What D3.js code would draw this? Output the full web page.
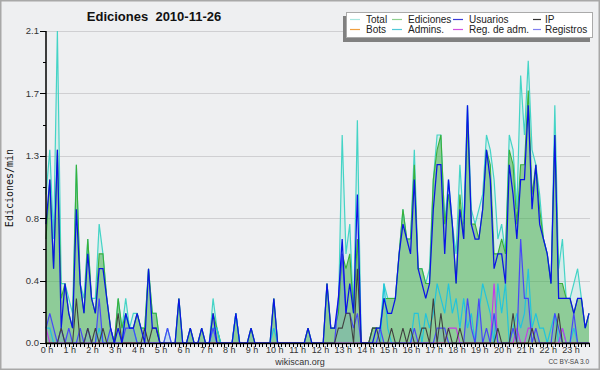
<!DOCTYPE html>
<html><head><meta charset="utf-8">
<script src="https://cdn.jsdelivr.net/npm/d3@7/dist/d3.min.js"></script>
<style>body{margin:0;background:#fff}svg{display:block}</style>
</head><body><svg id="c" width="600" height="370"></svg>
<script>
const hourLabels = ["0 h","1 h","2 h","3 h","4 h","5 h","6 h","7 h","8 h","9 h","10 h","11 h","12 h","13 h","14 h","15 h","16 h","17 h","18 h","19 h","20 h","21 h","22 h","23 h"];
const yTickValues = [0, 0.42, 0.84, 1.26, 1.68, 2.1];
const yTickLabels = ["0.0","0.4","0.8","1.3","1.7","2.1"];

const total = [
1.0,1.3,0.7,2.1,0.4,0.4, 0.3,0.2,1.2,0.4,0.3,0.7, 0.3,0.3,0.8,0.6,0.3,0.1, 0.0,0.3,0.1,0.3,0.1,0.2,
0.2,0.1,0.1,0.5,0.2,0.2, 0.0,0.0,0.1,0.0,0.0,0.3, 0.0,0.0,0.1,0.0,0.0,0.1, 0.0,0.0,0.3,0.1,0.0,0.0,
0.0,0.0,0.2,0.0,0.0,0.0, 0.1,0.0,0.0,0.0,0.0,0.0, 0.3,0.0,0.0,0.0,0.0,0.0, 0.0,0.0,0.0,0.1,0.0,0.0,
0.0,0.0,0.4,0.1,0.1,0.2, 1.4,0.6,0.8,0.2,1.5,0.0, 0.0,0.0,0.1,0.1,0.1,0.4, 0.3,0.3,0.3,0.6,0.9,0.7,
0.7,1.3,0.5,0.5,0.4,0.5, 1.1,1.4,1.4,0.8,1.1,0.8, 0.6,1.2,0.8,1.6,0.9,0.8, 0.9,1.0,1.4,1.3,1.1,0.7,
0.8,0.6,1.4,1.3,0.9,1.8, 1.4,1.9,1.3,1.2,1.0,0.7, 0.6,0.4,1.6,0.5,0.7,0.3, 0.3,0.4,0.5,0.3,0.1,0.2];
const ediciones = [
0.7,1.1,0.5,1.3,0.3,0.4, 0.2,0.1,1.2,0.4,0.2,0.7, 0.3,0.2,0.6,0.6,0.3,0.1, 0.0,0.3,0.1,0.2,0.1,0.1,
0.2,0.1,0.1,0.5,0.2,0.2, 0.0,0.0,0.0,0.0,0.0,0.3, 0.0,0.0,0.1,0.0,0.0,0.1, 0.0,0.0,0.2,0.1,0.0,0.0,
0.0,0.0,0.2,0.0,0.0,0.0, 0.1,0.0,0.0,0.0,0.0,0.0, 0.3,0.0,0.0,0.0,0.0,0.0, 0.0,0.0,0.0,0.1,0.0,0.0,
0.0,0.0,0.4,0.1,0.1,0.2, 0.6,0.5,0.6,0.2,0.7,0.0, 0.0,0.0,0.1,0.1,0.1,0.3, 0.3,0.3,0.3,0.6,0.9,0.7,
0.7,1.2,0.5,0.5,0.4,0.4, 1.1,1.3,1.4,0.8,1.0,0.8, 0.4,1.0,0.7,1.5,0.8,0.8, 0.7,0.9,1.3,1.2,0.6,0.6,
0.7,0.6,1.3,1.2,0.8,1.2, 1.2,1.7,1.0,1.2,0.9,0.7, 0.6,0.4,1.4,0.4,0.4,0.3, 0.3,0.2,0.3,0.3,0.1,0.2];
const usuarios = [
0.8,1.1,0.5,1.3,0.1,0.4, 0.2,0.1,0.9,0.4,0.2,0.6, 0.3,0.2,0.5,0.5,0.3,0.1, 0.0,0.1,0.0,0.2,0.1,0.1,
0.2,0.1,0.0,0.5,0.1,0.1, 0.0,0.0,0.0,0.0,0.0,0.3, 0.0,0.0,0.1,0.0,0.0,0.1, 0.0,0.0,0.2,0.0,0.0,0.0,
0.0,0.0,0.2,0.0,0.0,0.0, 0.1,0.0,0.0,0.0,0.0,0.0, 0.3,0.0,0.0,0.0,0.0,0.0, 0.0,0.0,0.0,0.1,0.0,0.0,
0.0,0.0,0.4,0.1,0.1,0.3, 0.7,0.2,0.4,0.2,1.0,0.0, 0.0,0.0,0.0,0.1,0.1,0.3, 0.2,0.2,0.3,0.6,0.8,0.7,
0.6,1.1,0.5,0.4,0.3,0.4, 0.9,1.2,1.2,0.6,1.1,0.8, 0.4,0.9,0.7,1.6,0.8,0.7, 0.7,0.9,1.3,1.1,0.5,0.6,
0.6,0.4,1.2,1.0,0.7,1.1, 1.1,1.6,0.9,1.2,0.8,0.7, 0.6,0.4,1.4,0.3,0.3,0.3, 0.3,0.2,0.3,0.3,0.1,0.2];
const ip = [
0,0,0,0,0.1,0, 0,0,0.3,0,0,0.1, 0,0.1,0,0.1,0,0, 0,0.2,0,0,0,0,
0,0,0.1,0,0.1,0.1, 0,0,0,0,0,0, 0,0,0,0,0,0, 0,0,0,0,0,0,
0,0,0,0,0,0, 0,0,0,0,0,0, 0,0,0,0,0,0, 0,0,0,0,0,0,
0,0,0,0,0,0.1, 0.1,0.2,0.2,0,0.5,0, 0,0,0.1,0.1,0,0, 0,0.1,0,0,0.1,0,
0.1,0,0,0.1,0.1,0, 0.3,0,0.2,0,0.1,0, 0,0.1,0,0,0,0, 0,0,0,0,0,0.1,
0,0,0,0.2,0,0, 0,0,0.1,0,0,0, 0,0,0,0.2,0,0, 0,0,0,0,0,0];
const bots = [
0,0,0,0,0,0, 0,0,0,0,0,0, 0,0,0,0,0,0, 0,0,0,0,0,0,
0,0,0,0,0,0, 0,0,0,0,0,0, 0,0,0,0,0,0, 0,0,0,0,0,0,
0,0,0,0,0,0, 0,0,0,0,0,0, 0,0,0,0,0,0, 0,0,0,0,0,0,
0,0,0,0,0,0, 0,0,0,0,0,0, 0,0,0,0,0,0, 0,0,0,0,0,0,
0,0,0,0,0,0, 0,0,0,0,0,0, 0,0,0,0,0,0, 0,0,0,0,0,0,
0,0,0,0,0,0, 0,0,0,0,0,0, 0,0,0,0,0,0, 0,0,0,0,0,0];
const admins = [
0.1,0.1,0,0,0,0, 0,0,0,0,0,0, 0,0,0.1,0,0,0, 0,0,0,0.2,0.1,0.1,
0,0,0,0,0,0, 0,0,0,0,0,0, 0,0,0,0,0,0, 0,0,0.1,0.1,0,0,
0,0,0.2,0,0,0, 0,0,0,0,0,0, 0.1,0,0,0,0,0, 0,0,0,0,0,0,
0,0,0,0,0,0, 0,0,0,0,0,0, 0,0,0,0,0,0.4, 0.1,0,0,0,0,0,
0,0.2,0.2,0,0.2,0.1, 0.2,0.4,0.3,0.2,0.4,0.2, 0.3,0.1,0.3,0.1,0.2,0, 0.2,0.4,0.3,0.2,0,0.4,
0.2,0.4,0,0.1,0.2,0.1, 0.2,0.5,0.1,0.2,0.1,0.1, 0,0.1,0.2,0,0.1,0, 0,0.1,0,0,0,0];
const regAdm = [
0.1,0,0,0,0,0, 0,0,0,0,0,0, 0,0,0,0,0,0, 0,0,0,0,0,0,
0,0,0,0,0,0, 0,0,0,0,0,0, 0,0,0,0,0,0, 0,0,0,0,0,0,
0,0,0,0,0,0, 0,0,0,0,0,0, 0,0,0,0,0,0, 0,0,0,0,0,0,
0,0,0,0,0,0, 0,0,0,0,0,0, 0,0,0,0,0,0, 0,0,0,0,0,0,
0,0,0,0,0,0, 0,0,0,0,0.1,0.1, 0.1,0,0,0,0,0, 0,0,0,0,0.4,0,
0,0,0,0,0.1,0, 0,0.1,0.1,0,0,0, 0,0,0,0,0.1,0, 0,0,0,0,0,0];
const registros = [
0.1,0.2,0.1,0,0.1,0, 0.1,0,0,0.1,0,0.1, 0,0,0.3,0,0,0.1, 0,0,0,0.1,0.1,0.1,
0,0,0,0,0,0, 0,0,0.1,0,0,0, 0,0,0,0,0,0, 0,0,0.1,0,0,0,
0,0,0,0,0,0, 0,0,0,0,0,0, 0,0,0,0,0,0, 0,0,0,0,0,0,
0,0,0,0,0,0.3, 0.6,0.2,0.2,0.1,0.2,0, 0,0,0,0,0.1,0, 0,0,0,0,0,0,
0,0.1,0,0,0,0, 0,0.1,0.1,0.1,0,0, 0,0,0,0.3,0.1,0, 0.3,0,0.1,0,0.2,0,
0,0,0,0.1,0,0.7, 0.3,0.3,0,0.1,0,0, 0,0,0.2,0.1,0,0, 0,0.2,0,0,0,0];

const legendNames = ["Total","Ediciones","Usuarios","IP","Bots","Admins.","Reg. de adm.","Registros"];
const legendColors = ["#a8e6e0","#8fd08f","#3a3ad8","#333333","#f0a040","#50c8d8","#d050e0","#8080f0"];

const svg = d3.select("#c");
const W = 600, H = 370;
const x = d3.scaleLinear().domain([0, 143]).range([46, 589]);
const y = d3.scaleLinear().domain([0, 2.1]).range([343, 31]);
const FONT = "'Liberation Sans', Arial, sans-serif";

svg.append("rect").attr("x",0.75).attr("y",0.75).attr("width",W-1.5).attr("height",H-1.5)
  .attr("fill","#eeeff1").attr("stroke","#a8a8a8").attr("stroke-width",1.5);

// grid
svg.append("g").selectAll("line").data(yTickValues.slice(1)).join("line")
  .attr("x1",46).attr("x2",590).attr("y1",d=>Math.round(y(d))+0.5).attr("y2",d=>Math.round(y(d))+0.5)
  .attr("stroke","#cfcfd2").attr("stroke-width",1);

const lineGen = d3.line().x((d,i)=>x(i)).y(d=>y(d));
const areaGen = d3.area().x((d,i)=>x(i)).y0(y(0)).y1(d=>y(d));

const g = svg.append("g");
g.append("path").datum(total).attr("d",areaGen).attr("fill","#48d8c8").attr("fill-opacity",0.13);
g.append("path").datum(ediciones).attr("d",areaGen).attr("fill","#3caa3c").attr("fill-opacity",0.48);
g.append("path").datum(registros).attr("d",areaGen).attr("fill","#4060ff").attr("fill-opacity",0.12);

function drawLine(data, color, w){
  g.append("path").datum(data).attr("d",lineGen).attr("fill","none")
   .attr("stroke",color).attr("stroke-width",w).attr("stroke-linejoin","miter");
}
drawLine(total,"#44d4c6",1.2);
drawLine(ediciones,"#3ab03a",1.1);
drawLine(bots,"#f09030",1.1);
drawLine(admins,"#22c4dc",1.2);
drawLine(regAdm,"#c838e8",1.1);
drawLine(registros,"#4848f8",1.2);
drawLine(ip,"#404040",1.1);
drawLine(usuarios,"#0a14e6",1.25);

// axes
const ax = svg.append("g");
ax.append("line").attr("x1",46).attr("x2",46).attr("y1",31).attr("y2",343.5).attr("stroke","#000").attr("stroke-width",1.5);
ax.append("line").attr("x1",45).attr("x2",590).attr("y1",343.5).attr("y2",343.5).attr("stroke","#000").attr("stroke-width",1.5);
ax.selectAll(".yt").data(yTickValues).join("line").attr("class","yt")
  .attr("x1",40).attr("x2",46).attr("y1",d=>Math.round(y(d))+0.5).attr("y2",d=>Math.round(y(d))+0.5)
  .attr("stroke","#000").attr("stroke-width",1);
const minor = d3.range(5).map(i => (yTickValues[i]+yTickValues[i+1])/2);
ax.selectAll(".ym").data(minor).join("line").attr("class","ym")
  .attr("x1",43).attr("x2",46).attr("y1",d=>Math.round(y(d))+0.5).attr("y2",d=>Math.round(y(d))+0.5)
  .attr("stroke","#000").attr("stroke-width",1);
ax.selectAll(".yl").data(yTickValues).join("text").attr("class","yl")
  .attr("x",39).attr("y",d=>y(d)+3.3).attr("text-anchor","end")
  .attr("font-family",FONT).attr("font-size",9.5).attr("fill","#333")
  .text((d,i)=>yTickLabels[i]);
ax.selectAll(".xt").data(d3.range(144)).join("line").attr("class","xt")
  .attr("x1",d=>Math.round(x(d))+0.5).attr("x2",d=>Math.round(x(d))+0.5).attr("y1",343).attr("y2",347)
  .attr("stroke","#000").attr("stroke-width",1);
ax.selectAll(".xl").data(hourLabels).join("text").attr("class","xl")
  .attr("x",(d,i)=>x(i*6)+1).attr("y",353).attr("text-anchor","middle")
  .attr("font-family",FONT).attr("font-size",9).attr("fill","#333").text(d=>d);

// titles
svg.append("text").attr("x",154).attr("y",21).attr("text-anchor","middle")
  .attr("font-family",FONT).attr("font-weight","bold").attr("font-size",13).attr("fill","#111")
  .style("white-space","pre").text("Ediciones  2010-11-26");
svg.append("text").attr("transform","translate(13,188) rotate(-90)").attr("text-anchor","middle")
  .attr("font-family","'DejaVu Sans Mono', monospace").attr("font-size",10).attr("fill","#111").text("Ediciones/min");
svg.append("text").attr("x",300).attr("y",365).attr("text-anchor","middle")
  .attr("font-family",FONT).attr("font-size",9).attr("fill","#333").text("wikiscan.org");
svg.append("text").attr("x",589).attr("y",364).attr("text-anchor","end")
  .attr("font-family",FONT).attr("font-size",6.5).attr("fill","#444").text("CC BY-SA 3.0");

// legend
const lg = svg.append("g");
lg.append("rect").attr("x",343).attr("y",16).attr("width",247).attr("height",26).attr("fill","#808080");
lg.append("rect").attr("x",346.5).attr("y",12.5).attr("width",246).attr("height",25).attr("fill","#fff").attr("stroke","#aaa");
const colX = [350, 392, 453, 533];
const textX = [366, 408, 469, 545];
legendNames.forEach((n,i)=>{
  const c = i%4, r = Math.floor(i/4);
  const yy = 19.5 + r*10;
  lg.append("line").attr("x1",colX[c]).attr("x2",colX[c]+ (c===3?8:10)).attr("y1",yy).attr("y2",yy)
    .attr("stroke",legendColors[i]).attr("stroke-width",1.2);
  lg.append("text").attr("x",textX[c]).attr("y",yy+3.5).attr("font-family",FONT).attr("font-size",10)
    .attr("fill","#222").text(n);
});
</script></body></html>
